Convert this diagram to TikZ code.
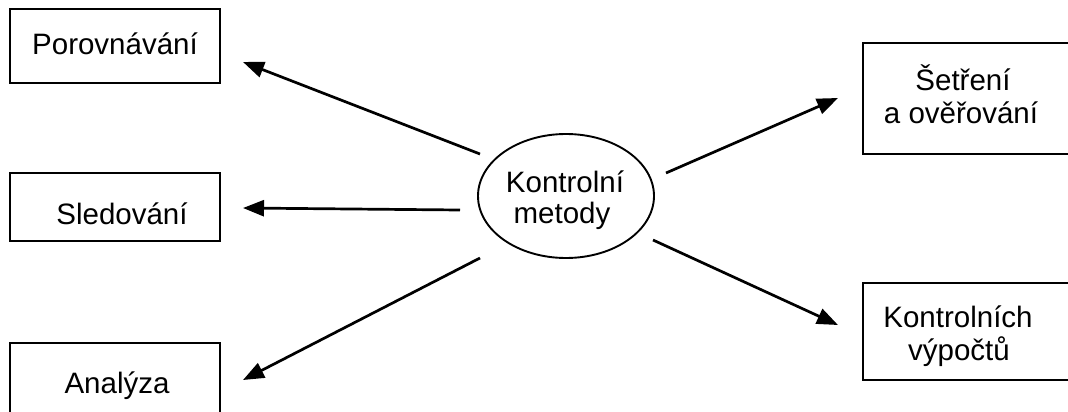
\documentclass[tikz,border=0pt]{standalone}
\usepackage{fontspec}
\setmainfont{Liberation Sans}
\usetikzlibrary{arrows.meta,shapes.geometric}
\begin{document}
\begin{tikzpicture}[x=1pt,y=-1pt,
  box/.style={draw,line width=1.9pt,inner sep=0pt},
  txt/.style={anchor=base,inner sep=0pt,font=\fontsize{29.5}{33}\selectfont},
  arr/.style={line width=2.7pt,-{Triangle[length=21pt,width=16pt]}}]
\useasboundingbox (0,0) rectangle (1068,412);
\clip (0,0) rectangle (1068,412);
% boxes
\node[box,minimum width=210pt,minimum height=74pt] (bPor) at (115,46) {};
\node[box,minimum width=210pt,minimum height=68pt] (bSle) at (115,207) {};
\node[box,minimum width=210pt,minimum height=82pt] (bAna) at (115,384) {};
\node[box,minimum width=217pt,minimum height=111pt] (bSet) at (971.5,98.5) {};
\node[box,minimum width=217pt,minimum height=97pt] (bKon) at (971.5,331.5) {};
\node[draw,ellipse,line width=1.9pt,minimum width=176pt,minimum height=124pt,inner sep=0pt] (center) at (566,196) {};
% texts
\node[txt] (tPor) at (115,55) {Porovnávání};
\node[txt] (tSle) at (122,224) {Sledování};
\node[txt] (tAna) at (117,393) {Analýza};
\node[txt] (tSet1) at (963,90) {Šetření};
\node[txt] (tSet2) at (961,123) {a ověřování};
\node[txt] (tKon1) at (958,327) {Kontrolních};
\node[txt] (tKon2) at (959,360) {výpočtů};
\node[txt] (tC1) at (565,192) {Kontrolní};
\node[txt] (tC2) at (562,223) {metody};
% arrow ends
\coordinate (pS) at (480,154); \coordinate (pT) at (243,62);
\coordinate (sS) at (460,210); \coordinate (sT) at (243,208);
\coordinate (aS) at (480,258); \coordinate (aT) at (243,380);
\coordinate (eS) at (666,173); \coordinate (eT) at (838,98);
\coordinate (kS) at (653,240); \coordinate (kT) at (838,325);
\draw[arr] (pS) -- (pT);
\draw[arr] (sS) -- (sT);
\draw[arr] (aS) -- (aT);
\draw[arr] (eS) -- (eT);
\draw[arr] (kS) -- (kT);
\end{tikzpicture}
\end{document}
